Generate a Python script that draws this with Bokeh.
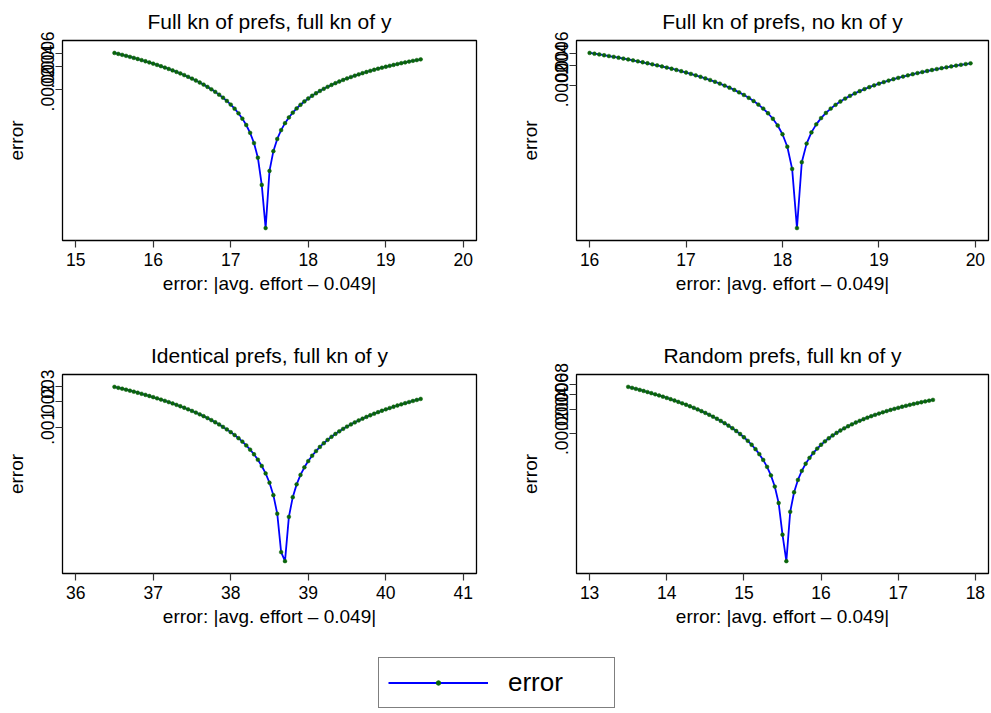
import math
from bokeh.plotting import figure
from bokeh.layouts import column, row
from bokeh.models import FixedTicker, Range1d, Legend, LegendItem
from bokeh.embed import file_html
from bokeh.resources import INLINE

FONT = "Liberation Sans"

titles = ["Full kn of prefs, full kn of y", "Full kn of prefs, no kn of y",
          "Identical prefs, full kn of y", "Random prefs, full kn of y"]
x_title = "error: |avg. effort \u2013 0.049|"
y_title = "error"
legend_label = "error"

x1 = [15.50, 15.55, 15.60, 15.65, 15.70, 15.75, 15.80, 15.85, 15.90, 15.95,
      16.00, 16.05, 16.10, 16.15, 16.20, 16.25, 16.30, 16.35, 16.40, 16.45,
      16.50, 16.55, 16.60, 16.65, 16.70, 16.75, 16.80, 16.85, 16.90, 16.95,
      17.00, 17.05, 17.10, 17.15, 17.20, 17.25, 17.30, 17.35, 17.40, 17.45,
      17.50, 17.55, 17.60, 17.65, 17.70, 17.75, 17.80, 17.85, 17.90, 17.95,
      18.00, 18.05, 18.10, 18.15, 18.20, 18.25, 18.30, 18.35, 18.40, 18.45,
      18.50, 18.55, 18.60, 18.65, 18.70, 18.75, 18.80, 18.85, 18.90, 18.95,
      19.00, 19.05, 19.10, 19.15, 19.20, 19.25, 19.30, 19.35, 19.40, 19.45]
err1 = [606.3e-6, 589.1e-6, 572.0e-6, 555.0e-6, 538.1e-6, 521.2e-6, 504.5e-6, 487.8e-6, 471.2e-6, 454.7e-6,
        438.2e-6, 421.9e-6, 405.6e-6, 389.4e-6, 373.3e-6, 357.3e-6, 341.3e-6, 325.5e-6, 309.7e-6, 294.0e-6,
        278.4e-6, 262.8e-6, 247.4e-6, 232.0e-6, 216.7e-6, 201.5e-6, 186.3e-6, 171.3e-6, 156.3e-6, 141.4e-6,
        126.6e-6, 111.9e-6, 97.3e-6, 82.7e-6, 68.2e-6, 53.8e-6, 39.5e-6, 25.3e-6, 11.1e-6, 3.0e-6,
        16.97e-6, 30.88e-6, 44.71e-6, 58.46e-6, 72.12e-6, 85.71e-6, 99.21e-6, 112.63e-6, 125.97e-6, 139.23e-6,
        152.41e-6, 165.50e-6, 178.52e-6, 191.45e-6, 204.30e-6, 217.07e-6, 229.76e-6, 242.36e-6, 254.89e-6, 267.33e-6,
        279.69e-6, 291.97e-6, 304.17e-6, 316.29e-6, 328.33e-6, 340.28e-6, 352.16e-6, 363.95e-6, 375.66e-6, 387.28e-6,
        398.83e-6, 410.30e-6, 421.68e-6, 432.98e-6, 444.20e-6, 455.34e-6, 466.40e-6, 477.38e-6, 488.27e-6, 499.09e-6]

x2 = [16.00, 16.05, 16.10, 16.15, 16.20, 16.25, 16.30, 16.35, 16.40, 16.45,
      16.50, 16.55, 16.60, 16.65, 16.70, 16.75, 16.80, 16.85, 16.90, 16.95,
      17.00, 17.05, 17.10, 17.15, 17.20, 17.25, 17.30, 17.35, 17.40, 17.45,
      17.50, 17.55, 17.60, 17.65, 17.70, 17.75, 17.80, 17.85, 17.90, 17.95,
      18.00, 18.05, 18.10, 18.15, 18.20, 18.25, 18.30, 18.35, 18.40, 18.45,
      18.50, 18.55, 18.60, 18.65, 18.70, 18.75, 18.80, 18.85, 18.90, 18.95,
      19.00, 19.05, 19.10, 19.15, 19.20, 19.25, 19.30, 19.35, 19.40, 19.45,
      19.50, 19.55, 19.60, 19.65, 19.70, 19.75, 19.80, 19.85, 19.90, 19.95]
err2 = [608.2e-6, 592.8e-6, 577.4e-6, 562.1e-6, 546.8e-6, 531.6e-6, 516.5e-6, 501.4e-6, 486.3e-6, 471.4e-6,
        456.5e-6, 441.6e-6, 426.9e-6, 412.1e-6, 397.5e-6, 382.9e-6, 368.3e-6, 353.8e-6, 339.4e-6, 325.1e-6,
        310.8e-6, 296.5e-6, 282.3e-6, 268.2e-6, 254.2e-6, 240.2e-6, 226.2e-6, 212.4e-6, 198.5e-6, 184.8e-6,
        171.1e-6, 157.4e-6, 143.9e-6, 130.4e-6, 116.9e-6, 103.5e-6, 90.2e-6, 76.9e-6, 63.7e-6, 50.5e-6,
        37.4e-6, 24.4e-6, 11.4e-6, 1.50e-6, 14.35e-6, 27.14e-6, 39.87e-6, 52.55e-6, 65.16e-6, 77.71e-6,
        90.20e-6, 102.63e-6, 115.00e-6, 127.31e-6, 139.56e-6, 151.75e-6, 163.88e-6, 175.95e-6, 187.96e-6, 199.91e-6,
        211.80e-6, 223.63e-6, 235.39e-6, 247.10e-6, 258.75e-6, 270.33e-6, 281.86e-6, 293.33e-6, 304.73e-6, 316.08e-6,
        327.36e-6, 338.59e-6, 349.75e-6, 360.85e-6, 371.90e-6, 382.88e-6, 393.81e-6, 404.67e-6, 415.47e-6, 426.21e-6]

x3 = [36.50, 36.55, 36.60, 36.65, 36.70, 36.75, 36.80, 36.85, 36.90, 36.95,
      37.00, 37.05, 37.10, 37.15, 37.20, 37.25, 37.30, 37.35, 37.40, 37.45,
      37.50, 37.55, 37.60, 37.65, 37.70, 37.75, 37.80, 37.85, 37.90, 37.95,
      38.00, 38.05, 38.10, 38.15, 38.20, 38.25, 38.30, 38.35, 38.40, 38.45,
      38.50, 38.55, 38.60, 38.65, 38.70, 38.75, 38.80, 38.85, 38.90, 38.95,
      39.00, 39.05, 39.10, 39.15, 39.20, 39.25, 39.30, 39.35, 39.40, 39.45,
      39.50, 39.55, 39.60, 39.65, 39.70, 39.75, 39.80, 39.85, 39.90, 39.95,
      40.00, 40.05, 40.10, 40.15, 40.20, 40.25, 40.30, 40.35, 40.40, 40.45]
err3 = [298.0e-5, 290.8e-5, 283.6e-5, 276.4e-5, 269.2e-5, 262.0e-5, 254.8e-5, 247.7e-5, 240.6e-5, 233.5e-5,
        226.4e-5, 219.4e-5, 212.3e-5, 205.3e-5, 198.3e-5, 191.4e-5, 184.4e-5, 177.5e-5, 170.5e-5, 163.6e-5,
        156.7e-5, 149.9e-5, 143.0e-5, 136.2e-5, 129.4e-5, 122.6e-5, 115.8e-5, 109.1e-5, 102.3e-5, 95.6e-5,
        88.9e-5, 82.3e-5, 75.6e-5, 69.0e-5, 62.3e-5, 55.7e-5, 49.2e-5, 42.6e-5, 36.0e-5, 29.5e-5,
        23.0e-5, 16.5e-5, 10.05e-5, 3.60e-5, 2.83e-5, 9.24e-5, 15.63e-5, 22.01e-5, 28.36e-5, 34.70e-5,
        41.02e-5, 47.32e-5, 53.60e-5, 59.86e-5, 66.10e-5, 72.32e-5, 78.53e-5, 84.71e-5, 90.88e-5, 97.03e-5,
        103.16e-5, 109.27e-5, 115.36e-5, 121.43e-5, 127.48e-5, 133.52e-5, 139.53e-5, 145.53e-5, 151.51e-5, 157.46e-5,
        163.40e-5, 169.32e-5, 175.23e-5, 181.11e-5, 186.97e-5, 192.82e-5, 198.65e-5, 204.45e-5, 210.24e-5, 216.01e-5]

x4 = [13.50, 13.55, 13.60, 13.65, 13.70, 13.75, 13.80, 13.85, 13.90, 13.95,
      14.00, 14.05, 14.10, 14.15, 14.20, 14.25, 14.30, 14.35, 14.40, 14.45,
      14.50, 14.55, 14.60, 14.65, 14.70, 14.75, 14.80, 14.85, 14.90, 14.95,
      15.00, 15.05, 15.10, 15.15, 15.20, 15.25, 15.30, 15.35, 15.40, 15.45,
      15.50, 15.55, 15.60, 15.65, 15.70, 15.75, 15.80, 15.85, 15.90, 15.95,
      16.00, 16.05, 16.10, 16.15, 16.20, 16.25, 16.30, 16.35, 16.40, 16.45,
      16.50, 16.55, 16.60, 16.65, 16.70, 16.75, 16.80, 16.85, 16.90, 16.95,
      17.00, 17.05, 17.10, 17.15, 17.20, 17.25, 17.30, 17.35, 17.40, 17.45]
err4 = [755.0e-6, 734.0e-6, 713.0e-6, 692.2e-6, 671.5e-6, 651.0e-6, 630.5e-6, 610.2e-6, 590.0e-6, 570.0e-6,
        550.0e-6, 530.2e-6, 510.6e-6, 491.0e-6, 471.6e-6, 452.3e-6, 433.1e-6, 414.1e-6, 395.2e-6, 376.4e-6,
        357.7e-6, 339.2e-6, 320.7e-6, 302.5e-6, 284.3e-6, 266.3e-6, 248.4e-6, 230.6e-6, 212.9e-6, 195.4e-6,
        178.0e-6, 160.7e-6, 143.6e-6, 126.5e-6, 109.6e-6, 92.9e-6, 76.2e-6, 59.7e-6, 43.3e-6, 27.0e-6,
        10.9e-6, 5.1e-6, 21.0e-6, 36.76e-6, 52.39e-6, 67.90e-6, 83.28e-6, 98.54e-6, 113.66e-6, 128.67e-6,
        143.54e-6, 158.29e-6, 172.91e-6, 187.41e-6, 201.78e-6, 216.03e-6, 230.14e-6, 244.13e-6, 258.00e-6, 271.74e-6,
        285.35e-6, 298.83e-6, 312.19e-6, 325.43e-6, 338.53e-6, 351.51e-6, 364.37e-6, 377.10e-6, 389.70e-6, 402.17e-6,
        414.52e-6, 426.74e-6, 438.84e-6, 450.81e-6, 462.65e-6, 474.37e-6, 485.96e-6, 497.42e-6, 508.76e-6, 519.97e-6]

xticks1 = [15, 16, 17, 18, 19, 20]
xticks2 = [16, 17, 18, 19, 20]
xticks3 = [36, 37, 38, 39, 40, 41]
xticks4 = [13, 14, 15, 16, 17, 18]

yticks1 = [0.0002, 0.0004, 0.0006]
ylabels1 = [".0002", ".0004", ".0006"]
yticks2 = [0.0002, 0.0004, 0.0006]
ylabels2 = [".0002", ".0004", ".0006"]
yticks3 = [0.001, 0.002, 0.003]
ylabels3 = [".001", ".002", ".003"]
yticks4 = [0.0002, 0.0004, 0.0006, 0.0008]
ylabels4 = [".0002", ".0004", ".0006", ".0008"]

LINE_COLOR = "#0000ff"
MARK_COLOR = "#0a640a"


def panel(title, xs, ys, xticks, yticks, ylabels, frame_w, frame_h, left, right, top, bottom):
    xlo, xhi = min(xticks), max(xticks)
    xpad = 0.034 * (xhi - xlo)
    lo, hi = math.log(min(ys)), math.log(max(ys))
    ypad = 0.071 * (hi - lo)
    p = figure(frame_width=frame_w, frame_height=frame_h, y_axis_type="log",
               x_range=Range1d(xlo - xpad, xhi + xpad),
               y_range=Range1d(math.exp(lo - ypad), math.exp(hi + ypad)),
               output_backend="svg", toolbar_location=None,
               min_border_left=left, min_border_right=right,
               min_border_top=top, min_border_bottom=bottom)
    p.title.text = title
    p.title.align = "center"
    p.title.text_font = FONT
    p.title.text_font_size = "21px"
    p.title.text_font_style = "normal"
    p.title.text_color = "black"
    p.title.standoff = 15
    p.grid.visible = False
    p.outline_line_color = "black"
    p.outline_line_width = 1.3
    p.background_fill_color = "white"
    p.border_fill_color = "white"

    p.line(xs, ys, line_color=LINE_COLOR, line_width=1.8)
    p.scatter(xs, ys, size=3.8, fill_color=MARK_COLOR, line_color=MARK_COLOR, line_width=0.5)

    for ax in (p.xaxis[0], p.yaxis[0]):
        ax.axis_line_color = None
        ax.major_tick_out = 7
        ax.major_tick_in = 0
        ax.major_tick_line_color = "#333333"
        ax.major_tick_line_width = 1.2
        ax.minor_tick_line_color = None
        ax.major_label_text_font = FONT
        ax.major_label_text_font_size = "17.5px"
        ax.major_label_text_color = "black"
        ax.axis_label_text_font = FONT
        ax.axis_label_text_font_size = "19px"
        ax.axis_label_text_font_style = "normal"
        ax.axis_label_text_color = "black"

    xa = p.xaxis[0]
    xa.ticker = FixedTicker(ticks=xticks)
    xa.axis_label = x_title
    xa.major_label_standoff = 5
    xa.axis_label_standoff = 4

    ya = p.yaxis[0]
    ya.ticker = FixedTicker(ticks=yticks)
    ya.major_label_overrides = dict(zip(yticks, ylabels))
    ya.major_label_orientation = "vertical"
    ya.axis_label = y_title
    ya.major_label_standoff = 1
    ya.axis_label_standoff = 12
    return p


p1 = panel(titles[0], x1, err1, xticks1, yticks1, ylabels1, 414, 200, 62, 38, 40, 94)
p2 = panel(titles[1], x2, err2, xticks2, yticks2, ylabels2, 412, 200, 62, 2, 40, 94)
p3 = panel(titles[2], x3, err3, xticks3, yticks3, ylabels3, 414, 199, 62, 38, 40, 57)
p4 = panel(titles[3], x4, err4, xticks4, yticks4, ylabels4, 412, 199, 62, 2, 40, 57)

# legend panel: the legend renderers reuse series data placed outside the visible range
pl = figure(width=990, height=80, x_range=(0, 1), y_range=(0, 1),
            output_backend="svg", toolbar_location=None, min_border=0)
pl.axis.visible = False
pl.grid.visible = False
pl.outline_line_color = None
rl = pl.line(x=x1, y=err1, line_color=LINE_COLOR, line_width=1.8)
rs = pl.scatter(x=x1, y=err1, size=3.8, fill_color=MARK_COLOR, line_color=MARK_COLOR)
leg = Legend(items=[LegendItem(label=legend_label, renderers=[rl, rs])],
             location=(378, 2), orientation="vertical",
             padding=9, spacing=0, margin=0,
             glyph_width=100, glyph_height=11, label_standoff=20,
             label_width=97, label_height=20,
             label_text_font=FONT, label_text_font_size="26px", label_text_color="black",
             border_line_color="black", border_line_width=1.2,
             background_fill_color="white", background_fill_alpha=1.0)
pl.add_layout(leg, "center")

layout = column(row(p1, p2), row(p3, p4), pl)

open("out.html", "w").write(file_html(layout, INLINE))
